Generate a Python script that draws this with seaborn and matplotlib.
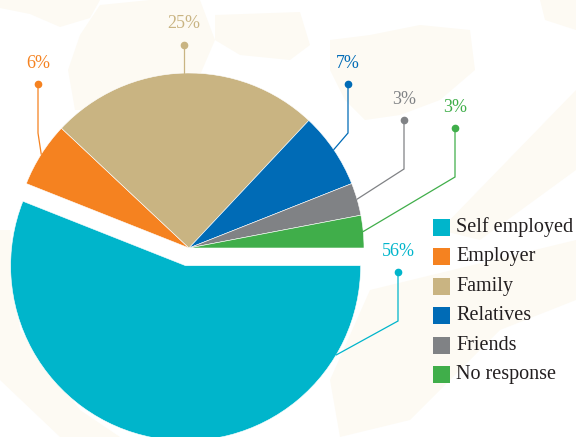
import matplotlib
matplotlib.use("Agg")
import matplotlib.pyplot as plt
import seaborn as sns
import numpy as np
from matplotlib.patches import Polygon, Rectangle

# data
categories = ["Self employed", "Employer", "Family", "Relatives", "Friends", "No response"]
shares = [56, 6, 25, 7, 3, 3]
pct_labels = ["56%", "6%", "25%", "7%", "3%", "3%"]
colors = ["#00B5CB", "#F58220", "#C9B482", "#006BB6", "#808285", "#40AE4A"]

W, H = 576, 437
CENTER = (189, H - 248)
RADIUS = 175
SERIF = ["Liberation Serif", "DejaVu Serif"]

sns.set_theme(style="white")
plt.rcParams["font.family"] = SERIF

fig = plt.figure(figsize=(W / 100, H / 100), dpi=100)
ax = fig.add_axes([0, 0, 1, 1])

# faint cream watermark shapes in the background (pixel coords, y down)
blobs = [
    [(0, 0), (100, 0), (90, 18), (60, 27), (30, 14), (0, 8)],
    [(100, 5), (150, 0), (200, 0), (215, 40), (200, 75), (175, 73), (110, 110), (75, 110), (68, 70), (80, 35)],
    [(215, 15), (300, 12), (310, 45), (290, 60), (240, 55), (215, 40)],
    [(330, 40), (370, 35), (420, 25), (470, 30), (475, 70), (440, 100), (400, 115), (365, 120), (345, 100), (330, 70)],
    [(540, 0), (576, 0), (576, 30), (545, 20)],
    [(576, 90), (576, 170), (480, 240), (440, 230)],
    [(370, 290), (576, 240), (576, 300), (500, 330), (410, 420), (340, 437), (330, 380)],
    [(0, 230), (10, 230), (20, 330), (80, 410), (120, 437), (60, 437), (0, 380)],
]
for b in blobs:
    ax.add_patch(Polygon([(x, H - y) for x, y in b], closed=True,
                         facecolor="#FDFAF3", edgecolor="none", zorder=0))

explode = [18, 0, 0, 0, 0, 0]
wedges, _ = ax.pie(shares, colors=colors, startangle=0, counterclock=False,
                   center=CENTER, radius=RADIUS, explode=explode,
                   wedgeprops=dict(linewidth=0.4, edgecolor="white"))
for w in wedges:
    w.set_zorder(2)

# leader lines: anchor angle on the wedge, knee x / y, dot y (pixel coords)
anchor_angle = [-30.7, None, None, None, None, None]
knees = [(398, 321), (38, 133), (None, None), (348, 133), (404, 169), (455, 177)]
dots_y = [272, 84, 45, 84, 120, 128]

for i, w in enumerate(wedges):
    cx, cy = w.center
    ang = anchor_angle[i]
    if ang is None:
        ang = (w.theta1 + w.theta2) / 2
    sx = cx + RADIUS * np.cos(np.radians(ang))
    sy = cy + RADIUS * np.sin(np.radians(ang))
    kx, ky = knees[i]
    if kx is None:
        kx, ky = sx, sy
    else:
        ky = H - ky
    dy = H - dots_y[i]
    ax.plot([sx, kx, kx], [sy, ky, dy], color=colors[i], lw=0.9,
            solid_joinstyle="miter", zorder=3)
    ax.plot([kx], [dy], "o", color=colors[i], ms=4.5, zorder=3)
    ax.text(kx, dy + 21, pct_labels[i], color=colors[i], fontsize=13,
            family=SERIF, ha="center", va="center", zorder=3)

# legend
for i, name in enumerate(categories):
    yc = H - (227 + i * 29.5)
    ax.add_patch(Rectangle((433, yc - 8.5), 17, 17, facecolor=colors[i],
                           edgecolor="none", zorder=3))
    ax.text(456, yc, name, fontsize=14.5, color="#231F20", family=SERIF,
            ha="left", va="center", zorder=3)

ax.set_xlim(0, W)
ax.set_ylim(0, H)
ax.set_aspect("equal")
ax.axis("off")

fig.savefig("out.png", dpi=100, facecolor="white")
